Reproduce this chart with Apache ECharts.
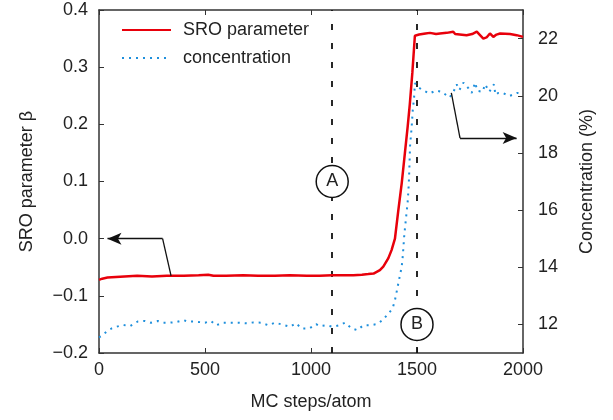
<!DOCTYPE html>
<html>
<head>
<meta charset="utf-8">
<script src="https://cdn.jsdelivr.net/npm/echarts@6/dist/echarts.min.js"></script>
<style>
  html, body { margin: 0; padding: 0; background: #fff; }
  #chart { width: 613px; height: 420px; }
</style>
</head>
<body>
<div id="chart"></div>
<script>
// SRO parameter (left axis)
const sroSteps = [0, 15, 40, 80, 120, 180, 250, 320, 400, 470, 515, 540, 600, 680, 750, 830, 900, 980, 1040, 1100,
  1150, 1200, 1240, 1270, 1295, 1310, 1325, 1341, 1365, 1380, 1396, 1412, 1428, 1443, 1456, 1466, 1478, 1490,
  1510, 1540, 1561, 1590, 1608, 1640, 1671, 1680, 1687, 1734, 1760, 1782, 1795, 1813, 1828, 1844, 1860, 1875,
  1892, 1939, 1970, 2000]
const sroValues = [-0.072, -0.070, -0.068, -0.067, -0.066, -0.065, -0.066, -0.065, -0.065, -0.064, -0.063, -0.065,
  -0.065, -0.064, -0.065, -0.065, -0.064, -0.065, -0.065, -0.064, -0.064, -0.064, -0.063, -0.062, -0.061, -0.058,
  -0.055, -0.049, -0.034, -0.020, 0.000, 0.050, 0.097, 0.150, 0.196, 0.235, 0.290, 0.355, 0.357, 0.359, 0.360,
  0.358, 0.359, 0.360, 0.362, 0.358, 0.356, 0.356, 0.358, 0.362, 0.357, 0.350, 0.352, 0.359, 0.353, 0.357, 0.359,
  0.358, 0.356, 0.353]

// concentration in % (right axis)
const concSteps = [0, 13, 36, 60, 83, 115, 146, 182, 217, 245, 277, 303, 330, 362, 398, 421, 450, 476, 500, 528,
  552, 586, 623, 657, 697, 728, 763, 799, 830, 862, 901, 929, 956, 992, 1024, 1042, 1074, 1102, 1133, 1160, 1192,
  1218, 1247, 1278, 1310, 1338, 1365, 1385, 1396, 1404, 1412, 1420, 1428, 1433, 1440, 1448, 1456, 1461, 1464,
  1467, 1475, 1480, 1486, 1490, 1505, 1522, 1558, 1590, 1617, 1653, 1670, 1687, 1700, 1719, 1743, 1758, 1774,
  1785, 1810, 1821, 1841, 1863, 1870, 1884, 1904, 1936, 1973, 2000]
const concValues = [11.55, 11.6, 11.75, 11.86, 11.92, 11.98, 11.94, 12.1, 12.12, 12.06, 12.12, 12.06, 12.06, 12.08,
  12.15, 12.1, 12.1, 12.08, 12.06, 12.12, 11.97, 12.06, 12.06, 12.06, 12.04, 12.07, 12.06, 11.97, 12.06, 12.0,
  11.92, 12.04, 11.86, 11.86, 12.01, 11.94, 11.97, 11.92, 11.97, 12.06, 11.86, 11.8, 11.97, 11.97, 12.01, 12.15,
  12.38, 12.56, 12.85, 13.14, 13.44, 13.73, 14.02, 14.4, 15.13, 15.71, 16.29, 16.88, 17.46, 18.22, 18.92, 19.5,
  19.9, 20.44, 20.3, 20.22, 20.08, 20.18, 20.14, 19.94, 20.1, 20.4, 20.2, 20.46, 20.26, 20.1, 20.46, 20.17, 20.14,
  20.4, 20.14, 20.4, 20.03, 20.1, 20.1, 19.99, 20.1, 20.06]

const concTicks = [12, 14, 16, 18, 20, 22]
const markerSteps = [1100, 1500]

const font = 'Liberation Sans, Arial, Helvetica, sans-serif'
const axisColor = '#333'
const textColor = '#222'

const chart = echarts.init(document.getElementById('chart'))

const fmtLeft = (v) => {
  const s = Math.abs(v).toFixed(1)
  return v < -1e-9 ? '\u2212' + s : s
}

const option = {
  animation: false,
  backgroundColor: '#fff',
  textStyle: { fontFamily: font },
  grid: { left: 99, right: 90, top: 10, bottom: 67, containLabel: false },
  legend: {
    orient: 'vertical',
    left: 121,
    top: 21,
    padding: 0,
    itemWidth: 49,
    itemHeight: 14,
    itemGap: 10,
    // hide the symbol that ECharts puts in the middle of line legend icons
    itemStyle: { opacity: 0, color: 'transparent', borderColor: 'transparent' },
    data: ['SRO parameter', 'concentration'],
    textStyle: { fontSize: 18, color: textColor, fontFamily: font, padding: [0, 0, 0, 7] }
  },
  xAxis: [
    {
      type: 'value',
      min: 0,
      max: 2000,
      interval: 500,
      name: 'MC steps/atom',
      nameLocation: 'middle',
      nameGap: 40,
      nameTextStyle: { fontSize: 18, color: textColor, fontFamily: font },
      axisLine: { onZero: false, lineStyle: { color: axisColor, width: 1.5 } },
      axisTick: { inside: true, length: 5, lineStyle: { color: axisColor } },
      axisLabel: { fontSize: 18, color: textColor, margin: 8, fontFamily: font, formatter: (v) => String(v) },
      splitLine: { show: false }
    },
    {
      type: 'value',
      position: 'top',
      min: 0,
      max: 2000,
      interval: 500,
      axisLine: { show: true, onZero: false, lineStyle: { color: axisColor, width: 1.5 } },
      axisTick: { show: true, inside: true, length: 5, lineStyle: { color: axisColor } },
      axisLabel: { show: false },
      splitLine: { show: false }
    }
  ],
  yAxis: [
    {
      type: 'value',
      min: -0.2,
      max: 0.4,
      interval: 0.1,
      name: 'SRO parameter \u03b2',
      nameLocation: 'middle',
      nameGap: 63,
      nameTextStyle: { fontSize: 18, color: textColor, fontFamily: font },
      axisLine: { show: true, onZero: false, lineStyle: { color: axisColor, width: 1.5 } },
      axisTick: { show: true, inside: true, length: 5, lineStyle: { color: axisColor } },
      axisLabel: { fontSize: 18, color: textColor, margin: 11, formatter: fmtLeft, fontFamily: font },
      splitLine: { show: false }
    },
    {
      type: 'value',
      position: 'right',
      min: 11,
      max: 23,
      name: 'Concentration (%)',
      nameLocation: 'middle',
      nameGap: 55,
      nameTextStyle: { fontSize: 18, color: textColor, fontFamily: font },
      axisLine: { show: true, onZero: false, lineStyle: { color: axisColor, width: 1.5 } },
      axisTick: { show: true, inside: true, length: 5, customValues: concTicks, lineStyle: { color: axisColor } },
      axisLabel: { fontSize: 18, color: textColor, margin: 15, customValues: concTicks, fontFamily: font },
      splitLine: { show: false }
    }
  ],
  series: [
    {
      name: 'SRO parameter',
      type: 'line',
      yAxisIndex: 0,
      data: sroSteps.map((s, i) => [s, sroValues[i]]),
      symbol: 'none',
      lineStyle: { color: '#e8000b', width: 2.5 },
      itemStyle: { color: '#e8000b' },
      z: 3,
      markLine: {
        silent: true,
        z: 2,
        symbol: 'none',
        label: { show: false },
        lineStyle: { color: '#111', width: 1.8, type: [6, 13] },
        data: markerSteps.map(s => ({ xAxis: s }))
      },
      markPoint: {
        silent: true,
        z: 10,
        symbol: 'circle',
        symbolSize: 32,
        itemStyle: { color: '#fff', borderColor: '#111', borderWidth: 1.5 },
        label: { show: true, color: textColor, fontSize: 18, fontFamily: font, formatter: (p) => p.name },
        data: [
          { name: 'A', coord: [1100, 0.1] },
          { name: 'B', coord: [1500, -0.15] }
        ]
      }
    },
    {
      name: 'concentration',
      type: 'line',
      yAxisIndex: 1,
      data: concSteps.map((s, i) => [s, concValues[i]]),
      symbol: 'none',
      lineStyle: { color: '#1e8fdc', width: 2, type: [2, 5] },
      itemStyle: { color: '#1e8fdc' },
      z: 3
    },
    // arrow pointing to the left axis
    {
      type: 'line',
      yAxisIndex: 0,
      data: [],
      silent: true,
      markLine: {
        silent: true,
        z: 6,
        label: { show: false },
        symbolSize: [9, 14],
        lineStyle: { color: '#111', width: 1.3, type: 'solid' },
        data: [
          [{ coord: [340, -0.065], symbol: 'none' }, { coord: [300, 0.0], symbol: 'none' }],
          [{ coord: [300, 0.0], symbol: 'none' }, { coord: [40, 0.0], symbol: 'arrow' }]
        ]
      }
    },
    // arrow pointing to the right axis
    {
      type: 'line',
      yAxisIndex: 1,
      data: [],
      silent: true,
      markLine: {
        silent: true,
        z: 6,
        label: { show: false },
        symbolSize: [9, 14],
        lineStyle: { color: '#111', width: 1.3, type: 'solid' },
        data: [
          [{ coord: [1662, 20.1], symbol: 'none' }, { coord: [1703, 18.52], symbol: 'none' }],
          [{ coord: [1703, 18.52], symbol: 'none' }, { coord: [1970, 18.52], symbol: 'arrow' }]
        ]
      }
    }
  ]
}

chart.setOption(option)
</script>
</body>
</html>
